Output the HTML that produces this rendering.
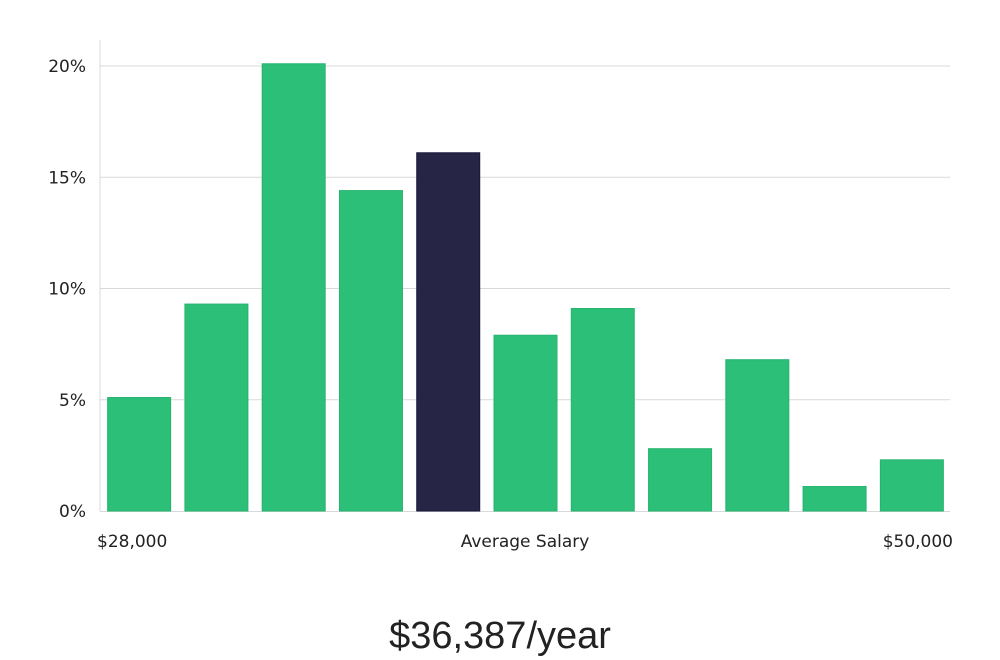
<!DOCTYPE html>
<html><head><meta charset="utf-8"><style>
body{margin:0;background:#fff;width:1000px;height:660px;overflow:hidden;font-family:"DejaVu Sans","Liberation Sans",sans-serif;}
svg{display:block}
</style></head><body>
<svg id="chart" width="1000" height="660" viewBox="0 0 1000 660" xmlns="http://www.w3.org/2000/svg"></svg>
<script>
const values = [5.1, 9.3, 20.1, 14.4, 16.1, 7.9, 9.1, 2.8, 6.8, 1.1, 2.3];
const highlightIndex = [4];
const yTicks = [0, 5, 10, 15, 20];
const xLabels = ["$28,000", "Average Salary", "$50,000"];
const salaryText = ["$36,387/year"];

const NS = "http://www.w3.org/2000/svg";
const svg = document.getElementById("chart");
const left = 100, right = 950, y0 = 511, y20 = 66;
const y = v => y0 - (v / 20) * (y0 - y20);
const step = (right - left) / values.length;
const bw = 63;
const x = i => left + i * step + (step - bw) / 2 + 0.5;
function mk(tag, attrs) { const e = document.createElementNS(NS, tag); for (const k in attrs) e.setAttribute(k, attrs[k]); svg.appendChild(e); return e; }

yTicks.forEach(t => {
  if (t > 0) {
    const g = mk("line", {x1: left, x2: right, y1: y(t), y2: y(t), stroke: "#d9d9d9", "stroke-width": 1});
    
    
  }
  const lb = mk("text", {x: 86, y: y(t) + 6, "text-anchor": "end", "font-size": 17, fill: "#222"});
  lb.textContent = t + "%";
  
  
});
const ax = mk("line", {x1: left, x2: left, y1: 40, y2: y0, stroke: "#d9d9d9", "stroke-width": 1});


const bx = mk("line", {x1: left, x2: right, y1: y0 + 0.5, y2: y0 + 0.5, stroke: "#d9d9d9", "stroke-width": 1});



values.forEach((v, i) => {
  const hi = highlightIndex.includes(i);
  const r = mk("rect", {x: x(i), y: y(v), width: bw, height: y0 - y(v), fill: hi ? "#272546" : "#2bbf78", stroke: hi ? "#1a1838" : "#27b36f", "stroke-width": 1});
  
  
});

const lx = [97, 525, 953], la = ["start", "middle", "end"];
xLabels.forEach((s, i) => {
  const t = mk("text", {x: lx[i], y: 547, "text-anchor": la[i], "font-size": 17, fill: "#222"});
  t.textContent = s;
  
  
});
const st = mk("text", {x: 500, y: 648, "text-anchor": "middle", "font-size": 38, fill: "#222", "font-family": "Liberation Sans, sans-serif", "font-weight": 300});
st.textContent = salaryText[0];


</script>
</body></html>
